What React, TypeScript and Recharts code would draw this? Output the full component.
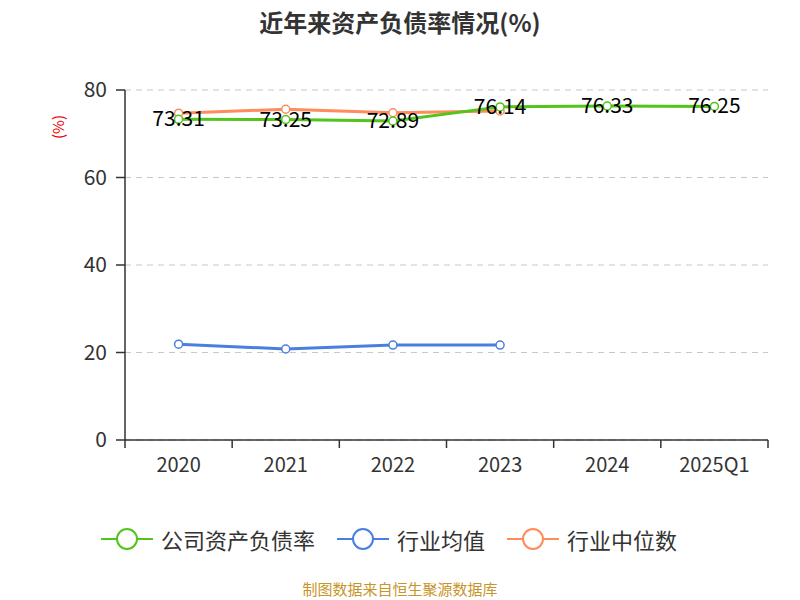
import React from "react";
import { LineChart, Line, XAxis, YAxis, CartesianGrid, LabelList } from "recharts";

const categories = ["2020", "2021", "2022", "2023", "2024", "2025Q1"];
const companyRatio = [73.31, 73.25, 72.89, 76.14, 76.33, 76.25];
const industryAvg = [21.9, 20.8, 21.7, 21.7, null, null];
const industryMedian = [74.7, 75.6, 74.8, 75.2, null, null];
const yTicks = [0, 20, 40, 60, 80];

const data = categories.map((name, i) => ({
  name,
  company: companyRatio[i],
  avg: industryAvg[i],
  median: industryMedian[i],
}));

const W = 800;
const H = 600;
const PLOT_LEFT = 125;
const PLOT_RIGHT = 768;
const BAND = (PLOT_RIGHT - PLOT_LEFT) / categories.length;

const GREEN = "#52c41a";
const BLUE = "#4a7fe0";
const ORANGE = "#ff8c5a";
const FONT = "'Noto Sans CJK SC', 'Noto Sans', sans-serif";

// echarts-style ticks: marks on band boundaries, labels in the middle
function XTick(props: any) {
  const { x, y, payload, index } = props;
  const left = x - BAND / 2;
  return (
    <g>
      <line x1={left} y1={y - 8} x2={left} y2={y} stroke="#333" strokeWidth={1.5} />
      {index === categories.length - 1 && (
        <line x1={x + BAND / 2} y1={y - 8} x2={x + BAND / 2} y2={y} stroke="#333" strokeWidth={1.5} />
      )}
      <text x={x} y={y + 24} textAnchor="middle" fill="#333" fontSize={20} fontFamily={FONT}>
        {payload.value}
      </text>
    </g>
  );
}

function ValueLabel(props: any) {
  const { x, y, value } = props;
  if (value == null) return null;
  return (
    <text x={x} y={y - 2} textAnchor="middle" dominantBaseline="central" fill="#000" fontSize={21} fontFamily={FONT}>
      {Number(value).toFixed(2)}
    </text>
  );
}

function LegendItem({ color, label }: { color: string; label: string }) {
  return (
    <div style={{ display: "flex", alignItems: "center", marginRight: 22 }}>
      <svg width={52} height={26}>
        <line x1={0} y1={13} x2={52} y2={13} stroke={color} strokeWidth={2} />
        <circle cx={26} cy={13} r={10} fill="#fff" stroke={color} strokeWidth={2} />
      </svg>
      <span style={{ marginLeft: 8, fontSize: 22, color: "#333" }}>{label}</span>
    </div>
  );
}

export default function App() {
  const dot = (color: string) => ({ r: 4, fill: "#fff", stroke: color, strokeWidth: 1.5 });
  return (
    <div style={{ position: "absolute", left: 0, top: 0, width: W, height: H, background: "#fff", fontFamily: FONT }}>
      <div style={{ position: "absolute", top: 4, width: W, textAlign: "center", fontSize: 24, fontWeight: "bold", color: "#333" }}>
        近年来资产负债率情况(%)
      </div>
      <div
        style={{
          position: "absolute",
          left: 50,
          top: 112,
          width: 24,
          height: 30,
          color: "#e00",
          fontSize: 15,
          transform: "rotate(-90deg)",
          textAlign: "center",
        }}
      >
        (%)
      </div>
      <LineChart width={W} height={H} data={data} margin={{ top: 90, right: W - PLOT_RIGHT, left: 0, bottom: 120 }}>
        <CartesianGrid vertical={false} stroke="#c8c8c8" strokeDasharray="6 5" strokeWidth={1.2} />
        <XAxis
          dataKey="name"
          height={40}
          padding={{ left: BAND / 2, right: BAND / 2 }}
          axisLine={{ stroke: "#333", strokeWidth: 1.5 }}
          tickLine={false}
          tick={<XTick />}
          interval={0}
        />
        <YAxis
          width={PLOT_LEFT}
          domain={[0, 80]}
          ticks={yTicks}
          axisLine={{ stroke: "#333", strokeWidth: 1.5 }}
          tickLine={{ stroke: "#333", strokeWidth: 1.5 }}
          tickSize={9}
          tickMargin={9}
          tick={{ fill: "#333", fontSize: 21, fontFamily: FONT }}
        />
        <Line type="linear" dataKey="median" stroke={ORANGE} strokeWidth={3} dot={dot(ORANGE)} isAnimationActive={false} />
        <Line type="linear" dataKey="avg" stroke={BLUE} strokeWidth={3} dot={dot(BLUE)} isAnimationActive={false} />
        <Line type="linear" dataKey="company" stroke={GREEN} strokeWidth={3} dot={dot(GREEN)} isAnimationActive={false}>
          <LabelList dataKey="company" content={<ValueLabel />} />
        </Line>
      </LineChart>
      <div style={{ position: "absolute", top: 523, left: 0, width: W, display: "flex", justifyContent: "center" }}>
        <LegendItem color={GREEN} label="公司资产负债率" />
        <LegendItem color={BLUE} label="行业均值" />
        <LegendItem color={ORANGE} label="行业中位数" />
      </div>
      <div style={{ position: "absolute", top: 578, width: W, textAlign: "center", fontSize: 15, color: "#c8952a" }}>
        制图数据来自恒生聚源数据库
      </div>
    </div>
  );
}
